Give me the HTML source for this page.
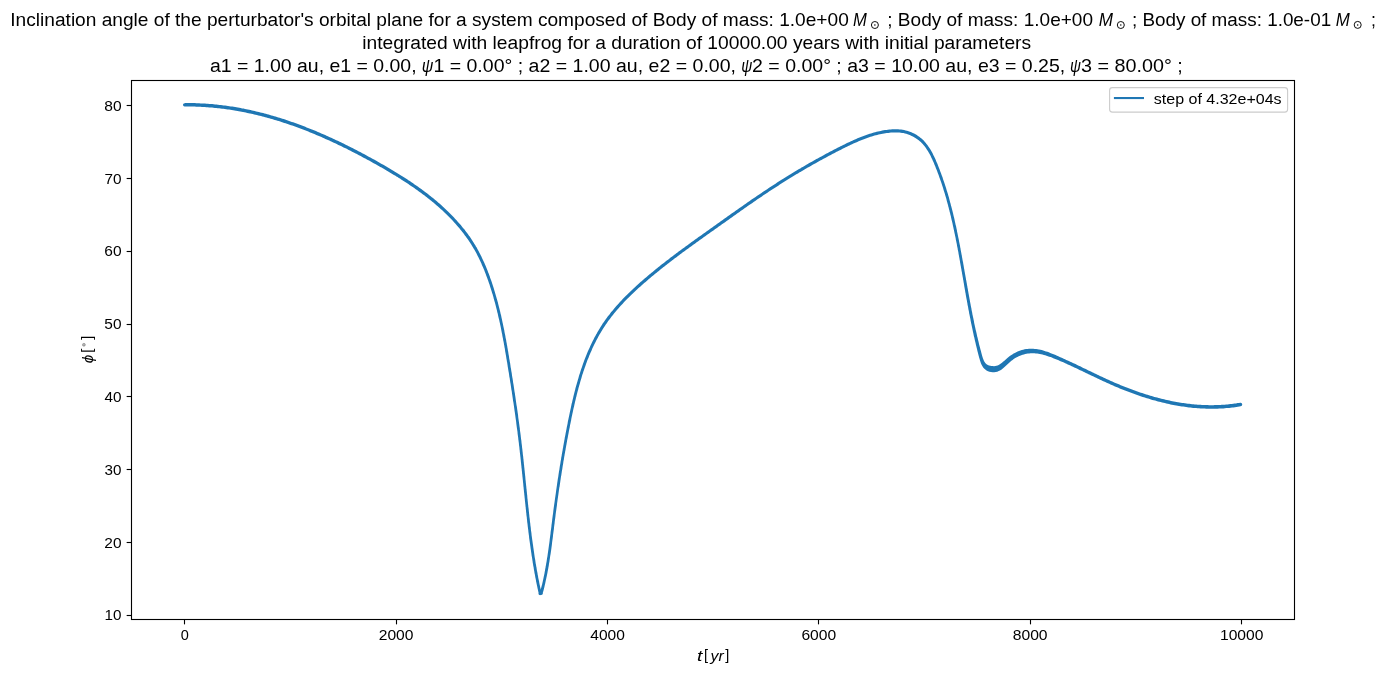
<!DOCTYPE html>
<html><head><meta charset="utf-8"><title>plot</title>
<style>
html,body{margin:0;padding:0;background:#fff;overflow:hidden;}
svg{display:block;will-change:transform;}
text{font-family:"Liberation Sans",sans-serif;fill:#000;}
</style></head>
<body>
<svg width="1387" height="676" viewBox="0 0 1387 676">
<rect x="0" y="0" width="1387" height="676" fill="#fff"/>
<path d="M184.7,106.6 186.1,106.5 187.6,106.5 189.0,106.5 190.5,106.6 191.9,106.6 193.4,106.6 194.8,106.6 196.2,106.7 197.7,106.7 199.1,106.8 200.6,106.8 202.0,106.9 203.4,107.0 204.9,107.1 206.3,107.2 207.7,107.3 209.2,107.4 210.6,107.5 212.0,107.6 213.4,107.7 214.9,107.9 216.3,108.0 217.7,108.2 219.1,108.3 220.5,108.5 222.0,108.7 223.4,108.8 224.8,109.0 226.2,109.2 227.6,109.4 229.0,109.6 230.4,109.8 231.8,110.1 233.2,110.3 234.6,110.5 236.0,110.8 237.4,111.0 238.8,111.2 240.2,111.5 241.6,111.8 243.0,112.0 244.4,112.3 245.8,112.6 247.2,112.9 248.6,113.2 250.0,113.5 251.4,113.8 252.8,114.1 254.1,114.4 255.5,114.7 256.9,115.1 258.3,115.4 259.7,115.8 261.0,116.1 262.4,116.5 263.8,116.8 265.2,117.2 266.5,117.6 267.9,117.9 269.3,118.3 270.6,118.7 272.0,119.1 273.4,119.5 274.7,119.9 276.1,120.3 277.4,120.7 278.8,121.1 280.2,121.6 281.5,122.0 282.9,122.4 284.2,122.9 285.6,123.3 286.9,123.8 288.3,124.2 289.6,124.7 291.0,125.2 292.3,125.6 293.6,126.1 295.0,126.6 296.3,127.1 297.7,127.6 299.0,128.1 300.3,128.6 301.7,129.1 303.0,129.6 304.3,130.1 305.7,130.6 307.0,131.1 308.3,131.6 309.6,132.2 311.0,132.7 312.3,133.2 313.6,133.8 314.9,134.3 316.2,134.9 317.6,135.4 318.9,136.0 320.2,136.6 321.5,137.1 322.8,137.7 324.1,138.3 325.4,138.9 326.7,139.5 328.0,140.0 329.3,140.6 330.6,141.2 331.9,141.8 333.2,142.4 334.5,143.0 335.8,143.6 337.1,144.3 338.4,144.9 339.7,145.5 341.0,146.1 342.3,146.7 343.6,147.4 344.9,148.0 346.2,148.6 347.5,149.3 348.7,149.9 350.0,150.6 351.3,151.2 352.6,151.9 353.8,152.5 355.1,153.2 356.4,153.8 357.7,154.5 358.9,155.2 360.2,155.8 361.5,156.5 362.7,157.2 364.0,157.9 365.3,158.6 366.5,159.2 367.8,159.9 369.1,160.6 370.3,161.3 371.6,162.0 372.8,162.7 374.1,163.4 375.3,164.1 376.6,164.8 377.8,165.5 379.1,166.2 380.3,166.9 381.6,167.6 382.8,168.3 384.1,169.1 385.3,169.8 386.5,170.5 387.8,171.2 389.0,171.9 390.2,172.7 391.5,173.4 392.7,174.2 393.9,174.9 395.1,175.6 396.4,176.4 397.6,177.1 398.8,177.9 400.0,178.6 401.2,179.4 402.4,180.2 403.6,180.9 404.8,181.7 406.0,182.5 407.2,183.3 408.4,184.1 409.6,184.9 410.7,185.7 411.9,186.5 413.1,187.3 414.3,188.1 415.4,188.9 416.6,189.7 417.7,190.5 418.9,191.4 420.0,192.2 421.2,193.0 422.3,193.9 423.4,194.7 424.6,195.6 425.7,196.4 426.8,197.3 427.9,198.2 429.0,199.1 430.1,200.0 431.2,200.8 432.3,201.7 433.4,202.6 434.5,203.6 435.6,204.5 436.7,205.4 437.7,206.3 438.8,207.3 439.9,208.2 440.9,209.2 442.0,210.1 443.0,211.1 444.0,212.1 445.0,213.0 446.1,214.0 447.1,215.0 448.1,216.0 449.1,217.0 450.1,218.0 451.1,219.1 452.1,220.1 453.0,221.1 454.0,222.2 455.0,223.2 455.9,224.3 456.9,225.4 457.8,226.5 458.7,227.5 459.6,228.6 460.5,229.7 461.4,230.8 462.3,232.0 463.2,233.1 464.1,234.2 464.9,235.4 465.8,236.5 466.6,237.7 467.4,238.8 468.3,240.0 469.1,241.2 469.8,242.3 470.6,243.5 471.4,244.7 472.1,245.9 472.9,247.2 473.6,248.4 474.3,249.6 475.0,250.8 475.7,252.1 476.4,253.3 477.0,254.6 477.7,255.9 478.3,257.1 479.0,258.4 479.6,259.7 480.2,261.0 480.8,262.3 481.4,263.6 481.9,264.9 482.5,266.2 483.1,267.5 483.6,268.8 484.2,270.1 484.7,271.4 485.2,272.8 485.7,274.1 486.2,275.4 486.7,276.8 487.2,278.1 487.7,279.4 488.2,280.8 488.6,282.1 489.1,283.5 489.6,284.8 490.0,286.2 490.4,287.5 490.9,288.9 491.3,290.2 491.7,291.6 492.1,293.0 492.6,294.3 493.0,295.7 493.4,297.1 493.7,298.4 494.1,299.8 494.5,301.2 494.9,302.5 495.3,303.9 495.6,305.3 496.0,306.7 496.3,308.1 496.7,309.4 497.0,310.8 497.3,312.2 497.7,313.6 498.0,315.0 498.3,316.4 498.6,317.8 499.0,319.2 499.3,320.6 499.6,322.0 499.9,323.3 500.2,324.7 500.5,326.1 500.8,327.5 501.1,328.9 501.3,330.3 501.6,331.7 501.9,333.2 502.2,334.6 502.4,336.0 502.7,337.4 503.0,338.8 503.2,340.2 503.5,341.6 503.8,343.0 504.0,344.4 504.3,345.8 504.5,347.2 504.8,348.6 505.0,350.1 505.2,351.5 505.5,352.9 505.7,354.3 506.0,355.7 506.2,357.1 506.4,358.5 506.7,360.0 506.9,361.4 507.2,362.8 507.4,364.2 507.6,365.6 507.8,367.0 508.1,368.4 508.3,369.9 508.5,371.3 508.8,372.7 509.0,374.1 509.2,375.5 509.4,376.9 509.7,378.3 509.9,379.8 510.1,381.2 510.3,382.6 510.6,384.0 510.8,385.4 511.0,386.8 511.2,388.2 511.4,389.7 511.7,391.1 511.9,392.5 512.1,393.9 512.3,395.3 512.5,396.7 512.7,398.1 512.9,399.6 513.1,401.0 513.4,402.4 513.6,403.8 513.8,405.2 514.0,406.6 514.2,408.0 514.4,409.5 514.6,410.9 514.8,412.3 515.0,413.7 515.2,415.1 515.4,416.5 515.6,418.0 515.8,419.4 516.0,420.8 516.2,422.2 516.3,423.6 516.5,425.0 516.7,426.5 516.9,427.9 517.1,429.3 517.3,430.7 517.5,432.1 517.6,433.5 517.8,435.0 518.0,436.4 518.2,437.8 518.3,439.2 518.5,440.6 518.7,442.1 518.9,443.5 519.0,444.9 519.2,446.3 519.4,447.7 519.5,449.2 519.7,450.6 519.8,452.0 520.0,453.4 520.2,454.9 520.3,456.3 520.5,457.7 520.6,459.1 520.8,460.5 520.9,462.0 521.1,463.4 521.2,464.8 521.4,466.2 521.5,467.7 521.7,469.1 521.8,470.5 522.0,471.9 522.1,473.4 522.3,474.8 522.4,476.2 522.6,477.7 522.7,479.1 522.9,480.5 523.0,481.9 523.2,483.4 523.3,484.8 523.4,486.2 523.6,487.6 523.7,489.1 523.9,490.5 524.0,491.9 524.2,493.3 524.3,494.8 524.5,496.2 524.6,497.6 524.8,499.1 524.9,500.5 525.1,501.9 525.2,503.3 525.4,504.8 525.5,506.2 525.7,507.6 525.8,509.0 526.0,510.5 526.1,511.9 526.3,513.3 526.4,514.7 526.6,516.2 526.8,517.6 526.9,519.0 527.1,520.5 527.2,521.9 527.4,523.3 527.6,524.7 527.7,526.1 527.9,527.6 528.1,529.0 528.3,530.4 528.4,531.8 528.6,533.3 528.8,534.7 529.0,536.1 529.1,537.5 529.3,539.0 529.5,540.4 529.7,541.8 529.9,543.2 530.1,544.6 530.3,546.1 530.5,547.5 530.7,548.9 530.9,550.3 531.1,551.7 531.3,553.1 531.5,554.6 531.7,556.0 532.0,557.4 532.2,558.8 532.4,560.2 532.6,561.6 532.8,563.1 533.1,564.5 533.3,565.9 533.6,567.3 533.8,568.7 534.0,570.1 534.3,571.5 534.5,572.9 534.8,574.3 535.1,575.8 535.3,577.2 535.6,578.6 535.9,580.0 536.1,581.4 536.4,582.8 536.7,584.2 537.0,585.6 537.3,587.0 537.6,588.4 537.9,589.8 538.2,591.2 538.5,592.6 538.8,594.0 541.4,592.8 541.1,591.4 540.8,590.0 540.5,588.6 540.2,587.2 539.9,585.8 539.6,584.4 539.3,583.0 539.1,581.6 538.8,580.3 538.5,578.9 538.2,577.5 538.0,576.1 537.7,574.7 537.5,573.2 537.2,571.8 536.9,570.4 536.7,569.0 536.5,567.6 536.2,566.2 536.0,564.8 535.7,563.4 535.5,562.0 535.3,560.6 535.1,559.2 534.8,557.8 534.6,556.4 534.4,555.0 534.2,553.5 534.0,552.1 533.8,550.7 533.6,549.3 533.4,547.9 533.2,546.5 533.0,545.1 532.8,543.7 532.6,542.2 532.4,540.8 532.2,539.4 532.0,538.0 531.8,536.6 531.6,535.2 531.5,533.7 531.3,532.3 531.1,530.9 530.9,529.5 530.8,528.1 530.6,526.6 530.4,525.2 530.3,523.8 530.1,522.4 529.9,520.9 529.8,519.5 529.6,518.1 529.4,516.7 529.3,515.3 529.1,513.8 529.0,512.4 528.8,511.0 528.7,509.6 528.5,508.1 528.3,506.7 528.2,505.3 528.0,503.9 527.9,502.4 527.7,501.0 527.6,499.6 527.4,498.2 527.3,496.7 527.2,495.3 527.0,493.9 526.9,492.5 526.7,491.0 526.6,489.6 526.4,488.2 526.3,486.7 526.1,485.3 526.0,483.9 525.8,482.5 525.7,481.0 525.5,479.6 525.4,478.2 525.3,476.8 525.1,475.3 525.0,473.9 524.8,472.5 524.7,471.1 524.5,469.6 524.4,468.2 524.2,466.8 524.1,465.3 523.9,463.9 523.8,462.5 523.6,461.1 523.5,459.6 523.3,458.2 523.2,456.8 523.0,455.4 522.8,453.9 522.7,452.5 522.5,451.1 522.4,449.7 522.2,448.2 522.0,446.8 521.9,445.4 521.7,444.0 521.5,442.5 521.4,441.1 521.2,439.7 521.0,438.3 520.8,436.8 520.7,435.4 520.5,434.0 520.3,432.6 520.1,431.2 519.9,429.7 519.8,428.3 519.6,426.9 519.4,425.5 519.2,424.1 519.0,422.6 518.8,421.2 518.6,419.8 518.4,418.4 518.2,417.0 518.1,415.5 517.9,414.1 517.7,412.7 517.5,411.3 517.3,409.9 517.1,408.5 516.9,407.0 516.6,405.6 516.4,404.2 516.2,402.8 516.0,401.4 515.8,399.9 515.6,398.5 515.4,397.1 515.2,395.7 515.0,394.3 514.8,392.9 514.5,391.5 514.3,390.0 514.1,388.6 513.9,387.2 513.7,385.8 513.5,384.4 513.2,383.0 513.0,381.5 512.8,380.1 512.6,378.7 512.3,377.3 512.1,375.9 511.9,374.5 511.7,373.0 511.4,371.6 511.2,370.2 511.0,368.8 510.7,367.4 510.5,366.0 510.3,364.5 510.1,363.1 509.8,361.7 509.6,360.3 509.3,358.9 509.1,357.5 508.9,356.0 508.6,354.6 508.4,353.2 508.2,351.8 507.9,350.4 507.7,349.0 507.4,347.6 507.2,346.1 506.9,344.7 506.7,343.3 506.4,341.9 506.2,340.5 505.9,339.1 505.6,337.7 505.4,336.2 505.1,334.8 504.8,333.4 504.5,332.0 504.3,330.6 504.0,329.2 503.7,327.8 503.4,326.4 503.1,325.0 502.8,323.6 502.5,322.2 502.2,320.7 501.9,319.3 501.6,317.9 501.3,316.5 501.0,315.1 500.6,313.7 500.3,312.3 500.0,310.9 499.6,309.6 499.3,308.2 498.9,306.8 498.6,305.4 498.2,304.0 497.9,302.6 497.5,301.2 497.1,299.8 496.7,298.4 496.3,297.1 495.9,295.7 495.5,294.3 495.1,292.9 494.7,291.5 494.3,290.2 493.9,288.8 493.5,287.4 493.0,286.1 492.6,284.7 492.1,283.3 491.7,282.0 491.2,280.6 490.7,279.2 490.2,277.9 489.8,276.5 489.3,275.2 488.8,273.8 488.2,272.5 487.7,271.1 487.2,269.8 486.7,268.5 486.1,267.1 485.6,265.8 485.0,264.5 484.4,263.1 483.8,261.8 483.2,260.5 482.6,259.2 482.0,257.9 481.4,256.6 480.7,255.3 480.1,254.0 479.4,252.7 478.8,251.4 478.1,250.2 477.4,248.9 476.7,247.6 475.9,246.4 475.2,245.1 474.4,243.9 473.7,242.7 472.9,241.4 472.1,240.2 471.3,239.0 470.5,237.8 469.7,236.6 468.8,235.4 468.0,234.3 467.1,233.1 466.2,231.9 465.3,230.8 464.5,229.6 463.5,228.5 462.6,227.4 461.7,226.3 460.8,225.1 459.8,224.0 458.9,223.0 457.9,221.9 457.0,220.8 456.0,219.7 455.0,218.7 454.0,217.6 453.0,216.5 452.0,215.5 451.0,214.5 450.0,213.5 449.0,212.4 448.0,211.4 446.9,210.4 445.9,209.4 444.8,208.5 443.8,207.5 442.7,206.5 441.7,205.5 440.6,204.6 439.5,203.6 438.4,202.7 437.4,201.8 436.3,200.8 435.2,199.9 434.1,199.0 433.0,198.1 431.8,197.2 430.7,196.3 429.6,195.4 428.5,194.5 427.3,193.6 426.2,192.8 425.1,191.9 423.9,191.1 422.8,190.2 421.6,189.3 420.5,188.5 419.3,187.7 418.1,186.8 417.0,186.0 415.8,185.2 414.6,184.4 413.4,183.6 412.3,182.7 411.1,181.9 409.9,181.1 408.7,180.4 407.5,179.6 406.3,178.8 405.1,178.0 403.9,177.2 402.7,176.5 401.4,175.7 400.2,174.9 399.0,174.2 397.8,173.4 396.6,172.7 395.3,171.9 394.1,171.2 392.9,170.4 391.6,169.7 390.4,168.9 389.2,168.2 387.9,167.5 386.7,166.8 385.4,166.0 384.2,165.3 382.9,164.6 381.7,163.9 380.4,163.2 379.2,162.5 377.9,161.7 376.7,161.0 375.4,160.3 374.1,159.6 372.9,158.9 371.6,158.2 370.4,157.5 369.1,156.9 367.8,156.2 366.6,155.5 365.3,154.8 364.0,154.1 362.7,153.4 361.5,152.8 360.2,152.1 358.9,151.4 357.6,150.7 356.4,150.1 355.1,149.4 353.8,148.8 352.5,148.1 351.2,147.5 349.9,146.8 348.7,146.2 347.4,145.5 346.1,144.9 344.8,144.2 343.5,143.6 342.2,143.0 340.9,142.3 339.6,141.7 338.3,141.1 337.0,140.5 335.7,139.9 334.4,139.3 333.1,138.7 331.8,138.1 330.5,137.5 329.2,136.9 327.8,136.3 326.5,135.7 325.2,135.1 323.9,134.5 322.6,133.9 321.3,133.4 319.9,132.8 318.6,132.2 317.3,131.7 316.0,131.1 314.6,130.6 313.3,130.0 312.0,129.5 310.6,128.9 309.3,128.4 308.0,127.9 306.6,127.4 305.3,126.8 304.0,126.3 302.6,125.8 301.3,125.3 299.9,124.8 298.6,124.3 297.2,123.8 295.9,123.3 294.5,122.8 293.2,122.3 291.8,121.9 290.5,121.4 289.1,120.9 287.8,120.5 286.4,120.0 285.1,119.6 283.7,119.1 282.3,118.7 281.0,118.3 279.6,117.8 278.2,117.4 276.9,117.0 275.5,116.6 274.1,116.2 272.8,115.8 271.4,115.4 270.0,115.0 268.6,114.6 267.2,114.2 265.9,113.8 264.5,113.5 263.1,113.1 261.7,112.7 260.3,112.4 258.9,112.0 257.5,111.7 256.1,111.4 254.8,111.0 253.4,110.7 252.0,110.4 250.6,110.1 249.2,109.8 247.8,109.5 246.4,109.2 245.0,108.9 243.6,108.6 242.1,108.4 240.7,108.1 239.3,107.8 237.9,107.6 236.5,107.3 235.1,107.1 233.7,106.8 232.3,106.6 230.8,106.4 229.4,106.2 228.0,106.0 226.6,105.8 225.1,105.6 223.7,105.4 222.3,105.2 220.9,105.0 219.4,104.9 218.0,104.7 216.6,104.6 215.1,104.4 213.7,104.3 212.2,104.1 210.8,104.0 209.4,103.9 207.9,103.8 206.5,103.7 205.0,103.6 203.6,103.5 202.1,103.4 200.7,103.4 199.2,103.3 197.8,103.2 196.3,103.2 194.9,103.1 193.4,103.1 191.9,103.1 190.5,103.1 189.0,103.0 187.6,103.0 186.1,103.0 184.6,103.1ZM542.6,593.9 542.9,592.5 543.3,591.2 543.7,589.8 544.0,588.4 544.4,587.0 544.7,585.6 545.0,584.3 545.3,582.9 545.6,581.5 545.9,580.1 546.2,578.7 546.5,577.3 546.8,575.9 547.1,574.5 547.4,573.1 547.6,571.7 547.9,570.2 548.2,568.8 548.4,567.4 548.7,566.0 548.9,564.6 549.1,563.2 549.4,561.8 549.6,560.3 549.8,558.9 550.0,557.5 550.2,556.1 550.5,554.6 550.7,553.2 550.9,551.8 551.1,550.4 551.3,548.9 551.5,547.5 551.7,546.1 551.9,544.6 552.0,543.2 552.2,541.8 552.4,540.3 552.6,538.9 552.8,537.5 553.0,536.1 553.1,534.6 553.3,533.2 553.5,531.8 553.7,530.3 553.9,528.9 554.0,527.5 554.2,526.0 554.4,524.6 554.6,523.2 554.7,521.8 554.9,520.3 555.1,518.9 555.3,517.5 555.5,516.1 555.6,514.7 555.8,513.2 556.0,511.8 556.2,510.4 556.4,509.0 556.6,507.6 556.8,506.2 557.0,504.7 557.1,503.3 557.3,501.9 557.5,500.5 557.7,499.1 557.9,497.7 558.1,496.3 558.3,494.9 558.5,493.4 558.7,492.0 558.9,490.6 559.1,489.2 559.3,487.8 559.6,486.4 559.8,485.0 560.0,483.6 560.2,482.2 560.4,480.8 560.6,479.4 560.8,478.0 561.0,476.6 561.3,475.2 561.5,473.8 561.7,472.4 561.9,471.0 562.2,469.6 562.4,468.2 562.6,466.8 562.8,465.4 563.1,463.9 563.3,462.5 563.5,461.1 563.8,459.7 564.0,458.3 564.2,456.9 564.5,455.5 564.7,454.1 565.0,452.7 565.2,451.3 565.5,449.9 565.7,448.5 566.0,447.1 566.2,445.7 566.5,444.3 566.7,442.9 567.0,441.5 567.2,440.1 567.5,438.7 567.8,437.3 568.0,435.9 568.3,434.5 568.6,433.1 568.8,431.7 569.1,430.2 569.4,428.8 569.7,427.4 569.9,426.0 570.2,424.6 570.5,423.2 570.8,421.8 571.1,420.4 571.3,419.0 571.6,417.5 571.9,416.1 572.2,414.7 572.5,413.3 572.8,411.9 573.1,410.5 573.4,409.1 573.7,407.7 574.1,406.3 574.4,404.8 574.7,403.4 575.0,402.0 575.4,400.6 575.7,399.2 576.0,397.8 576.4,396.4 576.7,395.0 577.1,393.6 577.4,392.2 577.8,390.8 578.2,389.4 578.5,388.0 578.9,386.7 579.3,385.3 579.7,383.9 580.1,382.5 580.5,381.1 580.9,379.8 581.3,378.4 581.7,377.0 582.1,375.6 582.5,374.3 583.0,372.9 583.4,371.6 583.9,370.2 584.3,368.9 584.8,367.5 585.3,366.2 585.8,364.8 586.2,363.5 586.7,362.2 587.2,360.8 587.7,359.5 588.3,358.2 588.8,356.9 589.3,355.6 589.9,354.3 590.4,353.0 591.0,351.7 591.6,350.4 592.1,349.1 592.7,347.8 593.3,346.5 593.9,345.3 594.5,344.0 595.2,342.7 595.8,341.5 596.4,340.2 597.1,339.0 597.8,337.7 598.4,336.5 599.1,335.3 599.8,334.1 600.5,332.9 601.2,331.7 602.0,330.5 602.7,329.3 603.5,328.1 604.2,326.9 605.0,325.7 605.8,324.6 606.6,323.4 607.4,322.3 608.2,321.1 609.0,320.0 609.9,318.9 610.7,317.7 611.6,316.6 612.5,315.5 613.3,314.4 614.2,313.3 615.1,312.2 616.1,311.1 617.0,310.0 617.9,309.0 618.8,307.9 619.8,306.8 620.7,305.8 621.7,304.7 622.7,303.7 623.7,302.6 624.6,301.6 625.6,300.6 626.6,299.5 627.6,298.5 628.7,297.5 629.7,296.5 630.7,295.5 631.7,294.5 632.8,293.5 633.8,292.5 634.9,291.5 635.9,290.5 637.0,289.6 638.0,288.6 639.1,287.6 640.2,286.7 641.2,285.7 642.3,284.7 643.4,283.8 644.5,282.8 645.6,281.9 646.7,281.0 647.8,280.0 648.8,279.1 649.9,278.2 651.0,277.2 652.1,276.3 653.2,275.4 654.3,274.5 655.5,273.6 656.6,272.7 657.7,271.8 658.8,270.9 659.9,270.0 661.0,269.1 662.1,268.2 663.2,267.3 664.4,266.4 665.5,265.6 666.6,264.7 667.7,263.8 668.9,262.9 670.0,262.1 671.1,261.2 672.3,260.3 673.4,259.5 674.5,258.6 675.7,257.8 676.8,256.9 677.9,256.0 679.1,255.2 680.2,254.3 681.4,253.5 682.5,252.6 683.7,251.8 684.8,251.0 686.0,250.1 687.1,249.3 688.3,248.4 689.4,247.6 690.6,246.8 691.7,245.9 692.9,245.1 694.0,244.2 695.2,243.4 696.3,242.6 697.5,241.8 698.6,240.9 699.8,240.1 701.0,239.3 702.1,238.4 703.3,237.6 704.4,236.8 705.6,235.9 706.8,235.1 707.9,234.3 709.1,233.5 710.3,232.6 711.4,231.8 712.6,231.0 713.8,230.2 714.9,229.3 716.1,228.5 717.3,227.7 718.4,226.8 719.6,226.0 720.8,225.2 721.9,224.3 723.1,223.5 724.3,222.7 725.4,221.9 726.6,221.0 727.8,220.2 728.9,219.4 730.1,218.5 731.3,217.7 732.4,216.9 733.6,216.0 734.8,215.2 735.9,214.4 737.1,213.6 738.3,212.7 739.5,211.9 740.6,211.1 741.8,210.3 743.0,209.4 744.2,208.6 745.3,207.8 746.5,207.0 747.7,206.1 748.9,205.3 750.0,204.5 751.2,203.7 752.4,202.9 753.6,202.1 754.8,201.3 755.9,200.4 757.1,199.6 758.3,198.8 759.5,198.0 760.7,197.2 761.9,196.4 763.0,195.6 764.2,194.8 765.4,194.0 766.6,193.2 767.8,192.4 769.0,191.6 770.2,190.8 771.4,190.1 772.6,189.3 773.8,188.5 775.0,187.7 776.2,186.9 777.4,186.2 778.6,185.4 779.8,184.6 781.0,183.8 782.2,183.1 783.4,182.3 784.6,181.6 785.8,180.8 787.0,180.0 788.2,179.3 789.4,178.5 790.6,177.8 791.9,177.0 793.1,176.3 794.3,175.6 795.5,174.8 796.7,174.1 798.0,173.4 799.2,172.6 800.4,171.9 801.6,171.2 802.9,170.5 804.1,169.7 805.3,169.0 806.6,168.3 807.8,167.6 809.0,166.9 810.3,166.2 811.5,165.5 812.7,164.8 814.0,164.1 815.2,163.4 816.5,162.7 817.7,162.0 819.0,161.3 820.2,160.6 821.5,159.9 822.7,159.2 824.0,158.5 825.2,157.9 826.5,157.2 827.8,156.5 829.0,155.8 830.3,155.2 831.6,154.5 832.8,153.8 834.1,153.2 835.4,152.5 836.6,151.8 837.9,151.2 839.2,150.5 840.5,149.9 841.8,149.2 843.0,148.6 844.3,147.9 845.6,147.3 846.9,146.7 848.2,146.0 849.5,145.4 850.8,144.8 852.1,144.2 853.4,143.6 854.7,143.0 856.0,142.4 857.3,141.9 858.6,141.3 859.9,140.7 861.2,140.2 862.5,139.7 863.9,139.2 865.2,138.7 866.5,138.2 867.8,137.7 869.2,137.3 870.5,136.8 871.8,136.4 873.2,136.0 874.5,135.6 875.9,135.2 877.2,134.9 878.6,134.6 880.0,134.3 881.3,134.0 882.7,133.7 884.1,133.5 885.4,133.2 886.8,133.0 888.2,132.9 889.6,132.7 891.0,132.6 892.4,132.5 893.8,132.4 895.2,132.4 896.6,132.4 898.0,132.5 899.4,132.5 900.8,132.7 902.1,132.9 903.5,133.1 904.9,133.5 906.3,133.8 907.6,134.3 909.0,134.7 910.3,135.3 911.6,135.9 912.9,136.5 914.1,137.2 915.4,137.9 916.5,138.7 917.6,139.5 918.7,140.3 919.8,141.2 920.8,142.1 921.7,143.0 922.7,144.0 923.5,145.0 924.4,146.1 925.2,147.1 926.0,148.2 926.8,149.4 927.5,150.5 928.3,151.7 929.0,152.9 929.6,154.1 930.3,155.3 930.9,156.6 931.5,157.9 932.1,159.1 932.7,160.4 933.3,161.7 933.9,163.1 934.4,164.4 935.0,165.7 935.5,167.0 936.0,168.4 936.6,169.7 937.1,171.0 937.6,172.4 938.1,173.7 938.6,175.0 939.1,176.4 939.5,177.7 940.0,179.1 940.5,180.4 941.0,181.8 941.4,183.1 941.9,184.5 942.3,185.8 942.8,187.2 943.2,188.6 943.6,189.9 944.0,191.3 944.5,192.7 944.9,194.0 945.3,195.4 945.7,196.8 946.1,198.1 946.5,199.5 946.8,200.9 947.2,202.3 947.6,203.7 948.0,205.0 948.3,206.4 948.7,207.8 949.0,209.2 949.4,210.6 949.7,212.0 950.1,213.3 950.4,214.7 950.8,216.1 951.1,217.5 951.4,218.9 951.7,220.3 952.1,221.7 952.4,223.1 952.7,224.5 953.0,225.9 953.3,227.3 953.6,228.7 953.9,230.1 954.2,231.5 954.5,232.9 954.8,234.3 955.1,235.7 955.4,237.1 955.7,238.5 955.9,239.9 956.2,241.3 956.5,242.7 956.8,244.1 957.0,245.5 957.3,246.9 957.6,248.3 957.8,249.7 958.1,251.1 958.4,252.5 958.6,253.9 958.9,255.4 959.1,256.8 959.4,258.2 959.6,259.6 959.9,261.0 960.1,262.4 960.4,263.9 960.6,265.3 960.9,266.7 961.1,268.1 961.4,269.5 961.6,270.9 961.9,272.3 962.1,273.8 962.4,275.2 962.6,276.6 962.9,278.0 963.1,279.4 963.4,280.8 963.6,282.3 963.9,283.7 964.1,285.1 964.3,286.5 964.6,287.9 964.8,289.3 965.1,290.7 965.3,292.2 965.6,293.6 965.8,295.0 966.1,296.4 966.3,297.8 966.6,299.2 966.9,300.7 967.1,302.1 967.4,303.5 967.6,304.9 967.9,306.3 968.2,307.7 968.4,309.2 968.7,310.6 969.0,312.0 969.2,313.4 969.5,314.8 969.8,316.3 970.1,317.7 970.4,319.1 970.6,320.5 970.9,321.9 971.2,323.4 971.5,324.8 971.8,326.2 972.1,327.6 972.4,329.1 972.7,330.5 973.0,331.9 973.3,333.3 973.6,334.8 973.9,336.2 974.3,337.6 974.6,339.0 974.9,340.5 975.3,341.9 975.6,343.3 975.9,344.8 976.3,346.2 976.6,347.6 977.0,349.1 977.3,350.5 977.7,351.9 978.1,353.4 978.4,354.8 978.8,356.3 979.2,357.7 979.6,359.1 980.0,360.6 980.5,362.0 981.0,363.4 981.6,364.8 982.3,366.1 983.2,367.4 984.1,368.5 985.3,369.6 986.5,370.5 988.0,371.2 989.4,371.8 991.0,372.1 992.6,372.3 994.2,372.2 995.7,372.0 997.3,371.7 998.7,371.1 1000.0,370.5 1001.3,369.7 1002.5,368.8 1003.7,367.8 1004.8,366.8 1005.9,365.8 1007.0,364.8 1008.1,363.7 1009.2,362.7 1010.3,361.8 1011.4,360.8 1012.6,360.0 1013.7,359.1 1014.9,358.3 1016.2,357.6 1017.4,356.9 1018.7,356.3 1020.0,355.7 1021.3,355.2 1022.6,354.8 1023.9,354.4 1025.2,354.0 1026.5,353.7 1027.9,353.5 1029.2,353.4 1030.5,353.3 1031.8,353.2 1033.2,353.2 1034.5,353.3 1035.8,353.4 1037.2,353.5 1038.5,353.8 1039.8,354.0 1041.2,354.3 1042.5,354.6 1043.9,355.0 1045.2,355.3 1046.5,355.7 1047.9,356.2 1049.2,356.7 1050.6,357.1 1051.9,357.6 1053.2,358.2 1054.6,358.7 1055.9,359.2 1057.3,359.8 1058.6,360.3 1059.9,360.9 1061.2,361.5 1062.6,362.1 1063.9,362.6 1065.2,363.2 1066.5,363.8 1067.8,364.4 1069.1,365.0 1070.4,365.6 1071.7,366.2 1073.0,366.8 1074.3,367.4 1075.6,368.0 1076.9,368.6 1078.2,369.3 1079.5,369.9 1080.8,370.5 1082.1,371.1 1083.4,371.7 1084.6,372.3 1085.9,372.9 1087.2,373.6 1088.5,374.2 1089.8,374.8 1091.1,375.4 1092.4,376.0 1093.6,376.6 1094.9,377.2 1096.2,377.8 1097.5,378.5 1098.8,379.1 1100.1,379.7 1101.4,380.3 1102.7,380.9 1104.0,381.5 1105.3,382.1 1106.6,382.7 1107.9,383.3 1109.2,383.8 1110.5,384.4 1111.8,385.0 1113.1,385.6 1114.4,386.2 1115.7,386.7 1117.1,387.3 1118.4,387.8 1119.7,388.4 1121.0,388.9 1122.4,389.5 1123.7,390.0 1125.0,390.5 1126.4,391.1 1127.7,391.6 1129.1,392.1 1130.4,392.6 1131.8,393.1 1133.1,393.6 1134.5,394.1 1135.8,394.6 1137.2,395.1 1138.6,395.5 1139.9,396.0 1141.3,396.4 1142.7,396.9 1144.0,397.3 1145.4,397.8 1146.8,398.2 1148.2,398.6 1149.6,399.1 1150.9,399.5 1152.3,399.9 1153.7,400.3 1155.1,400.6 1156.5,401.0 1157.9,401.4 1159.3,401.8 1160.7,402.1 1162.1,402.5 1163.5,402.8 1164.9,403.1 1166.3,403.4 1167.7,403.8 1169.1,404.1 1170.5,404.4 1171.9,404.7 1173.3,404.9 1174.7,405.2 1176.2,405.5 1177.6,405.7 1179.0,406.0 1180.4,406.2 1181.8,406.4 1183.2,406.6 1184.7,406.8 1186.1,407.0 1187.5,407.2 1188.9,407.4 1190.4,407.6 1191.8,407.7 1193.2,407.9 1194.7,408.0 1196.1,408.1 1197.5,408.2 1199.0,408.3 1200.4,408.4 1201.8,408.5 1203.3,408.6 1204.7,408.6 1206.1,408.7 1207.6,408.7 1209.0,408.7 1210.5,408.8 1211.9,408.8 1213.3,408.8 1214.8,408.7 1216.2,408.7 1217.7,408.7 1219.1,408.6 1220.6,408.5 1222.0,408.5 1223.4,408.4 1224.9,408.3 1226.3,408.1 1227.8,408.0 1229.2,407.9 1230.7,407.7 1232.1,407.5 1233.5,407.4 1235.0,407.2 1236.4,407.0 1237.9,406.7 1239.3,406.5 1240.8,406.3 1240.3,402.7 1238.9,402.9 1237.5,403.1 1236.0,403.4 1234.6,403.6 1233.2,403.8 1231.8,403.9 1230.4,404.1 1228.9,404.3 1227.5,404.4 1226.1,404.5 1224.7,404.7 1223.3,404.8 1221.8,404.8 1220.4,404.9 1219.0,405.0 1217.6,405.1 1216.1,405.1 1214.7,405.1 1213.3,405.2 1211.9,405.2 1210.5,405.2 1209.1,405.2 1207.6,405.1 1206.2,405.1 1204.8,405.0 1203.4,405.0 1202.0,404.9 1200.6,404.8 1199.1,404.8 1197.7,404.7 1196.3,404.5 1194.9,404.4 1193.5,404.3 1192.1,404.2 1190.7,404.0 1189.3,403.8 1187.9,403.7 1186.4,403.5 1185.0,403.3 1183.6,403.1 1182.2,402.9 1180.8,402.7 1179.4,402.4 1178.0,402.2 1176.6,402.0 1175.2,401.7 1173.8,401.4 1172.4,401.2 1171.0,400.9 1169.7,400.6 1168.3,400.3 1166.9,400.0 1165.5,399.7 1164.1,399.3 1162.7,399.0 1161.3,398.7 1159.9,398.3 1158.6,398.0 1157.2,397.6 1155.8,397.2 1154.4,396.9 1153.1,396.5 1151.7,396.1 1150.3,395.7 1149.0,395.3 1147.6,394.8 1146.2,394.4 1144.9,394.0 1143.5,393.6 1142.1,393.1 1140.8,392.7 1139.4,392.2 1138.1,391.7 1136.7,391.3 1135.4,390.8 1134.0,390.3 1132.7,389.8 1131.4,389.3 1130.0,388.8 1128.7,388.3 1127.4,387.8 1126.0,387.3 1124.7,386.8 1123.4,386.2 1122.1,385.7 1120.7,385.2 1119.4,384.6 1118.1,384.1 1116.8,383.5 1115.5,382.9 1114.2,382.4 1112.9,381.8 1111.6,381.2 1110.3,380.7 1109.0,380.1 1107.7,379.5 1106.4,378.9 1105.1,378.3 1103.8,377.7 1102.5,377.1 1101.2,376.5 1099.9,375.9 1098.7,375.3 1097.4,374.7 1096.1,374.1 1094.8,373.5 1093.5,372.8 1092.2,372.2 1091.0,371.6 1089.7,371.0 1088.4,370.4 1087.1,369.7 1085.8,369.1 1084.5,368.5 1083.2,367.9 1081.9,367.2 1080.7,366.6 1079.4,366.0 1078.1,365.4 1076.8,364.7 1075.5,364.1 1074.2,363.5 1072.9,362.9 1071.6,362.3 1070.2,361.7 1068.9,361.1 1067.6,360.5 1066.3,359.9 1065.0,359.3 1063.7,358.7 1062.3,358.1 1061.0,357.5 1059.7,356.9 1058.3,356.3 1057.0,355.7 1055.6,355.1 1054.3,354.5 1052.9,353.9 1051.5,353.4 1050.2,352.9 1048.8,352.3 1047.4,351.8 1046.0,351.4 1044.6,350.9 1043.2,350.5 1041.8,350.1 1040.4,349.8 1039.0,349.5 1037.6,349.2 1036.1,349.0 1034.7,348.9 1033.3,348.8 1031.8,348.7 1030.4,348.7 1029.0,348.8 1027.5,348.9 1026.1,349.1 1024.6,349.3 1023.2,349.7 1021.8,350.0 1020.4,350.5 1019.0,351.0 1017.6,351.6 1016.2,352.2 1014.9,352.9 1013.6,353.6 1012.3,354.4 1011.0,355.2 1009.8,356.1 1008.6,357.0 1007.4,358.0 1006.3,358.9 1005.2,359.9 1004.1,360.9 1003.0,361.8 1002.0,362.7 1000.9,363.5 999.8,364.2 998.7,364.9 997.6,365.4 996.5,365.8 995.3,366.0 994.0,366.2 992.7,366.1 991.4,366.0 990.2,365.7 989.0,365.4 987.9,364.9 986.9,364.4 986.0,363.7 985.3,362.9 984.6,361.9 984.0,360.9 983.5,359.7 983.0,358.5 982.6,357.2 982.2,355.9 981.8,354.5 981.4,353.1 981.1,351.7 980.7,350.3 980.3,349.0 980.0,347.6 979.6,346.2 979.2,344.8 978.9,343.4 978.6,342.0 978.2,340.6 977.9,339.2 977.6,337.8 977.2,336.4 976.9,335.0 976.6,333.6 976.3,332.2 976.0,330.9 975.6,329.5 975.3,328.1 975.0,326.7 974.7,325.3 974.4,323.9 974.1,322.5 973.9,321.1 973.6,319.7 973.3,318.3 973.0,316.9 972.7,315.5 972.4,314.2 972.2,312.8 971.9,311.4 971.6,310.0 971.4,308.6 971.1,307.2 970.8,305.8 970.6,304.4 970.3,303.0 970.0,301.6 969.8,300.2 969.5,298.8 969.3,297.5 969.0,296.1 968.8,294.7 968.5,293.3 968.3,291.9 968.0,290.5 967.8,289.1 967.5,287.7 967.3,286.3 967.0,284.9 966.8,283.5 966.5,282.1 966.3,280.7 966.0,279.4 965.8,278.0 965.5,276.6 965.3,275.2 965.0,273.8 964.8,272.4 964.5,271.0 964.3,269.6 964.0,268.2 963.8,266.8 963.6,265.4 963.3,264.0 963.1,262.6 962.8,261.2 962.5,259.8 962.3,258.4 962.0,257.0 961.8,255.6 961.5,254.3 961.3,252.9 961.0,251.4 960.7,250.0 960.5,248.6 960.2,247.2 960.0,245.8 959.7,244.4 959.4,243.0 959.1,241.6 958.9,240.2 958.6,238.8 958.3,237.4 958.0,236.0 957.7,234.6 957.4,233.1 957.1,231.7 956.9,230.3 956.6,228.9 956.3,227.5 956.0,226.1 955.6,224.7 955.3,223.3 955.0,221.9 954.7,220.5 954.4,219.1 954.1,217.7 953.7,216.3 953.4,214.9 953.1,213.5 952.7,212.1 952.4,210.7 952.0,209.3 951.7,207.9 951.3,206.5 950.9,205.2 950.6,203.8 950.2,202.4 949.8,201.0 949.4,199.6 949.1,198.2 948.7,196.8 948.3,195.5 947.9,194.1 947.5,192.7 947.0,191.3 946.6,189.9 946.2,188.6 945.8,187.2 945.3,185.8 944.9,184.5 944.4,183.1 944.0,181.7 943.5,180.4 943.0,179.0 942.6,177.6 942.1,176.3 941.6,174.9 941.1,173.6 940.6,172.2 940.1,170.9 939.6,169.5 939.1,168.2 938.5,166.8 938.0,165.5 937.5,164.1 936.9,162.8 936.3,161.5 935.8,160.1 935.2,158.8 934.6,157.5 934.0,156.2 933.3,154.9 932.7,153.6 932.0,152.3 931.3,151.0 930.6,149.8 929.8,148.6 929.1,147.4 928.2,146.2 927.4,145.0 926.5,143.9 925.6,142.8 924.7,141.7 923.7,140.6 922.6,139.6 921.5,138.6 920.4,137.7 919.3,136.8 918.0,135.9 916.8,135.1 915.5,134.3 914.1,133.6 912.8,132.9 911.4,132.3 909.9,131.7 908.5,131.2 907.0,130.8 905.6,130.4 904.1,130.0 902.6,129.8 901.1,129.6 899.6,129.4 898.1,129.3 896.6,129.3 895.2,129.2 893.7,129.3 892.2,129.3 890.8,129.4 889.3,129.6 887.9,129.7 886.5,129.9 885.0,130.1 883.6,130.3 882.2,130.6 880.8,130.9 879.4,131.2 878.0,131.5 876.6,131.8 875.2,132.2 873.8,132.6 872.4,132.9 871.0,133.4 869.7,133.8 868.3,134.2 866.9,134.7 865.6,135.2 864.2,135.7 862.9,136.2 861.5,136.7 860.2,137.2 858.9,137.8 857.5,138.3 856.2,138.9 854.9,139.5 853.6,140.1 852.3,140.7 850.9,141.3 849.6,141.9 848.3,142.5 847.0,143.1 845.7,143.8 844.4,144.4 843.1,145.0 841.8,145.7 840.5,146.3 839.3,147.0 838.0,147.6 836.7,148.3 835.4,149.0 834.1,149.6 832.9,150.3 831.6,151.0 830.3,151.6 829.0,152.3 827.8,153.0 826.5,153.6 825.2,154.3 824.0,155.0 822.7,155.7 821.4,156.4 820.2,157.1 818.9,157.7 817.7,158.4 816.4,159.1 815.2,159.8 813.9,160.5 812.7,161.2 811.4,161.9 810.2,162.6 808.9,163.3 807.7,164.0 806.4,164.8 805.2,165.5 804.0,166.2 802.7,166.9 801.5,167.6 800.3,168.4 799.0,169.1 797.8,169.8 796.6,170.5 795.3,171.3 794.1,172.0 792.9,172.8 791.7,173.5 790.5,174.2 789.2,175.0 788.0,175.7 786.8,176.5 785.6,177.2 784.4,178.0 783.2,178.8 781.9,179.5 780.7,180.3 779.5,181.1 778.3,181.8 777.1,182.6 775.9,183.4 774.7,184.2 773.5,184.9 772.3,185.7 771.1,186.5 769.9,187.3 768.7,188.1 767.5,188.9 766.3,189.7 765.1,190.5 763.9,191.3 762.7,192.1 761.5,192.9 760.3,193.7 759.2,194.5 758.0,195.3 756.8,196.1 755.6,196.9 754.4,197.7 753.2,198.5 752.0,199.3 750.9,200.1 749.7,201.0 748.5,201.8 747.3,202.6 746.1,203.4 745.0,204.2 743.8,205.0 742.6,205.9 741.4,206.7 740.3,207.5 739.1,208.3 737.9,209.2 736.7,210.0 735.6,210.8 734.4,211.7 733.2,212.5 732.0,213.3 730.9,214.1 729.7,215.0 728.5,215.8 727.4,216.6 726.2,217.5 725.0,218.3 723.9,219.1 722.7,219.9 721.5,220.8 720.4,221.6 719.2,222.4 718.0,223.3 716.9,224.1 715.7,224.9 714.5,225.8 713.4,226.6 712.2,227.4 711.0,228.2 709.9,229.1 708.7,229.9 707.5,230.7 706.4,231.5 705.2,232.4 704.0,233.2 702.9,234.0 701.7,234.9 700.6,235.7 699.4,236.5 698.2,237.3 697.1,238.2 695.9,239.0 694.8,239.8 693.6,240.7 692.4,241.5 691.3,242.3 690.1,243.2 689.0,244.0 687.8,244.9 686.7,245.7 685.5,246.5 684.4,247.4 683.2,248.2 682.1,249.1 680.9,249.9 679.8,250.8 678.6,251.6 677.5,252.5 676.3,253.3 675.2,254.2 674.0,255.0 672.9,255.9 671.8,256.8 670.6,257.6 669.5,258.5 668.4,259.4 667.2,260.2 666.1,261.1 665.0,262.0 663.8,262.9 662.7,263.8 661.6,264.6 660.4,265.5 659.3,266.4 658.2,267.3 657.1,268.2 656.0,269.1 654.9,270.0 653.7,270.9 652.6,271.9 651.5,272.8 650.4,273.7 649.3,274.6 648.2,275.5 647.1,276.5 646.0,277.4 644.9,278.3 643.8,279.3 642.7,280.2 641.6,281.2 640.5,282.1 639.5,283.1 638.4,284.1 637.3,285.0 636.2,286.0 635.2,287.0 634.1,288.0 633.0,289.0 632.0,290.0 630.9,291.0 629.9,292.0 628.8,293.0 627.8,294.0 626.8,295.0 625.7,296.0 624.7,297.1 623.7,298.1 622.7,299.1 621.7,300.2 620.7,301.2 619.7,302.3 618.7,303.4 617.8,304.4 616.8,305.5 615.9,306.6 614.9,307.7 614.0,308.8 613.1,309.9 612.2,311.0 611.2,312.1 610.3,313.2 609.5,314.4 608.6,315.5 607.7,316.6 606.9,317.8 606.0,319.0 605.2,320.1 604.4,321.3 603.5,322.5 602.7,323.6 602.0,324.8 601.2,326.0 600.4,327.2 599.7,328.5 598.9,329.7 598.2,330.9 597.5,332.1 596.8,333.4 596.1,334.6 595.4,335.9 594.7,337.1 594.0,338.4 593.4,339.7 592.7,340.9 592.1,342.2 591.5,343.5 590.9,344.8 590.3,346.1 589.7,347.4 589.1,348.7 588.5,350.0 587.9,351.3 587.4,352.6 586.8,353.9 586.3,355.3 585.8,356.6 585.2,357.9 584.7,359.3 584.2,360.6 583.7,362.0 583.2,363.3 582.7,364.7 582.3,366.0 581.8,367.4 581.3,368.7 580.9,370.1 580.4,371.5 580.0,372.9 579.5,374.2 579.1,375.6 578.7,377.0 578.3,378.4 577.9,379.8 577.5,381.2 577.1,382.6 576.7,383.9 576.3,385.3 575.9,386.7 575.5,388.1 575.2,389.5 574.8,391.0 574.4,392.4 574.1,393.8 573.7,395.2 573.4,396.6 573.1,398.0 572.7,399.4 572.4,400.8 572.1,402.2 571.7,403.6 571.4,405.1 571.1,406.5 570.8,407.9 570.5,409.3 570.2,410.7 569.9,412.1 569.6,413.6 569.3,415.0 569.0,416.4 568.7,417.8 568.4,419.2 568.1,420.6 567.8,422.1 567.6,423.5 567.3,424.9 567.0,426.3 566.7,427.7 566.5,429.1 566.2,430.5 565.9,431.9 565.6,433.4 565.4,434.8 565.1,436.2 564.8,437.6 564.6,439.0 564.3,440.4 564.1,441.8 563.8,443.2 563.6,444.6 563.3,446.0 563.1,447.4 562.8,448.8 562.6,450.3 562.3,451.7 562.1,453.1 561.8,454.5 561.6,455.9 561.3,457.3 561.1,458.7 560.9,460.1 560.6,461.5 560.4,462.9 560.2,464.3 559.9,465.7 559.7,467.1 559.5,468.5 559.3,469.9 559.0,471.3 558.8,472.7 558.6,474.1 558.4,475.6 558.2,477.0 557.9,478.4 557.7,479.8 557.5,481.2 557.3,482.6 557.1,484.0 556.9,485.4 556.7,486.8 556.5,488.2 556.3,489.6 556.1,491.0 555.9,492.5 555.7,493.9 555.5,495.3 555.3,496.7 555.1,498.1 554.9,499.5 554.7,500.9 554.5,502.4 554.3,503.8 554.1,505.2 553.9,506.6 553.7,508.0 553.5,509.4 553.3,510.9 553.2,512.3 553.0,513.7 552.8,515.1 552.6,516.5 552.4,518.0 552.2,519.4 552.1,520.8 551.9,522.2 551.7,523.7 551.5,525.1 551.4,526.5 551.2,528.0 551.0,529.4 550.8,530.8 550.6,532.2 550.5,533.7 550.3,535.1 550.1,536.5 549.9,538.0 549.7,539.4 549.6,540.8 549.4,542.2 549.2,543.7 549.0,545.1 548.8,546.5 548.6,547.9 548.4,549.4 548.2,550.8 548.0,552.2 547.8,553.6 547.6,555.0 547.4,556.5 547.1,557.9 546.9,559.3 546.7,560.7 546.5,562.1 546.2,563.5 546.0,564.9 545.7,566.3 545.5,567.7 545.2,569.1 545.0,570.5 544.7,571.9 544.5,573.3 544.2,574.7 543.9,576.1 543.6,577.5 543.3,578.9 543.0,580.3 542.7,581.7 542.4,583.0 542.1,584.4 541.7,585.8 541.4,587.1 541.0,588.5 540.7,589.9 540.3,591.2 540.0,592.6ZM182.97,104.81 a1.67,1.67 0 1,0 3.34,0 a1.67,1.67 0 1,0 -3.34,0ZM538.50,593.41 a1.60,1.60 0 1,0 3.19,0 a1.60,1.60 0 1,0 -3.19,0ZM539.67,593.24 a1.60,1.60 0 1,0 3.19,0 a1.60,1.60 0 1,0 -3.19,0ZM1238.81,404.46 a1.72,1.72 0 1,0 3.45,0 a1.72,1.72 0 1,0 -3.45,0Z" fill="#1f77b4" fill-rule="nonzero"/>
<rect x="131.5" y="80.5" width="1163.0" height="539.0" fill="none" stroke="#000" stroke-width="1.11"/>
<line x1="126.64" y1="615.50" x2="131.5" y2="615.50" stroke="#000" stroke-width="1.11"/>
<line x1="126.64" y1="542.50" x2="131.5" y2="542.50" stroke="#000" stroke-width="1.11"/>
<line x1="126.64" y1="469.50" x2="131.5" y2="469.50" stroke="#000" stroke-width="1.11"/>
<line x1="126.64" y1="396.50" x2="131.5" y2="396.50" stroke="#000" stroke-width="1.11"/>
<line x1="126.64" y1="324.50" x2="131.5" y2="324.50" stroke="#000" stroke-width="1.11"/>
<line x1="126.64" y1="251.50" x2="131.5" y2="251.50" stroke="#000" stroke-width="1.11"/>
<line x1="126.64" y1="178.50" x2="131.5" y2="178.50" stroke="#000" stroke-width="1.11"/>
<line x1="126.64" y1="105.50" x2="131.5" y2="105.50" stroke="#000" stroke-width="1.11"/>
<line x1="184.50" y1="619.5" x2="184.50" y2="624.36" stroke="#000" stroke-width="1.11"/>
<line x1="396.50" y1="619.5" x2="396.50" y2="624.36" stroke="#000" stroke-width="1.11"/>
<line x1="607.50" y1="619.5" x2="607.50" y2="624.36" stroke="#000" stroke-width="1.11"/>
<line x1="818.50" y1="619.5" x2="818.50" y2="624.36" stroke="#000" stroke-width="1.11"/>
<line x1="1030.50" y1="619.5" x2="1030.50" y2="624.36" stroke="#000" stroke-width="1.11"/>
<line x1="1241.50" y1="619.5" x2="1241.50" y2="624.36" stroke="#000" stroke-width="1.11"/>
<rect x="1109.6" y="87.6" width="178" height="24.5" rx="2.8" fill="#fff" fill-opacity="0.8" stroke="#cccccc" stroke-width="1.11"/>
<line x1="1113.9" y1="98.05" x2="1144" y2="98.05" stroke="#1f77b4" stroke-width="2.08"/>
<g opacity="0.999">
<text x="10.30" y="25.90" font-size="17.66" textLength="838.49" lengthAdjust="spacingAndGlyphs">Inclination angle of the perturbator's orbital plane for a system composed of Body of mass: 1.0e+00</text>
<text x="853.03" y="25.90" font-size="17.66" font-style="italic" textLength="13.84" lengthAdjust="spacingAndGlyphs">M</text>
<text x="887.31" y="25.90" font-size="17.66" textLength="205.69" lengthAdjust="spacingAndGlyphs">; Body of mass: 1.0e+00</text>
<text x="1098.72" y="25.90" font-size="17.66" font-style="italic" textLength="14.25" lengthAdjust="spacingAndGlyphs">M</text>
<text x="1131.93" y="25.90" font-size="17.66" textLength="199.20" lengthAdjust="spacingAndGlyphs">; Body of mass: 1.0e-01</text>
<text x="1335.82" y="25.90" font-size="17.66" font-style="italic" textLength="14.05" lengthAdjust="spacingAndGlyphs">M</text>
<text x="1371.10" y="25.90" font-size="17.66">;</text>
<text x="362.24" y="48.80" font-size="17.66" textLength="668.88" lengthAdjust="spacingAndGlyphs">integrated with leapfrog for a duration of 10000.00 years with initial parameters</text>
<text x="209.97" y="71.60" font-size="17.66" textLength="206.60" lengthAdjust="spacingAndGlyphs">a1 = 1.00 au, e1 = 0.00,</text>
<text x="421.80" y="71.60" font-size="17.66" font-style="italic" textLength="11.63" lengthAdjust="spacingAndGlyphs">ψ</text>
<text x="433.42" y="71.60" font-size="17.66" textLength="302.56" lengthAdjust="spacingAndGlyphs">1 = 0.00° ; a2 = 1.00 au, e2 = 0.00,</text>
<text x="741.14" y="71.60" font-size="17.66" font-style="italic" textLength="11.07" lengthAdjust="spacingAndGlyphs">ψ</text>
<text x="752.10" y="71.60" font-size="17.66" textLength="313.15" lengthAdjust="spacingAndGlyphs">2 = 0.00° ; a3 = 10.00 au, e3 = 0.25,</text>
<text x="1070.05" y="71.60" font-size="17.66" font-style="italic" textLength="10.96" lengthAdjust="spacingAndGlyphs">ψ</text>
<text x="1081.06" y="71.60" font-size="17.66" textLength="101.71" lengthAdjust="spacingAndGlyphs">3 = 80.00° ;</text>
<text x="104.58" y="620.46" font-size="14.5" textLength="16.95" lengthAdjust="spacingAndGlyphs">10</text>
<text x="104.32" y="547.64" font-size="14.5" textLength="17.22" lengthAdjust="spacingAndGlyphs">20</text>
<text x="104.64" y="474.82" font-size="14.5" textLength="16.89" lengthAdjust="spacingAndGlyphs">30</text>
<text x="104.52" y="402.00" font-size="14.5" textLength="17.01" lengthAdjust="spacingAndGlyphs">40</text>
<text x="104.38" y="329.18" font-size="14.5" textLength="17.16" lengthAdjust="spacingAndGlyphs">50</text>
<text x="104.27" y="256.36" font-size="14.5" textLength="17.27" lengthAdjust="spacingAndGlyphs">60</text>
<text x="104.45" y="183.54" font-size="14.5" textLength="17.08" lengthAdjust="spacingAndGlyphs">70</text>
<text x="104.24" y="110.72" font-size="14.5" textLength="17.30" lengthAdjust="spacingAndGlyphs">80</text>
<text x="180.80" y="639.60" font-size="14.5" textLength="8.08" lengthAdjust="spacingAndGlyphs">0</text>
<text x="378.71" y="639.60" font-size="14.5" textLength="34.77" lengthAdjust="spacingAndGlyphs">2000</text>
<text x="590.28" y="639.60" font-size="14.5" textLength="34.57" lengthAdjust="spacingAndGlyphs">4000</text>
<text x="801.40" y="639.60" font-size="14.5" textLength="34.82" lengthAdjust="spacingAndGlyphs">6000</text>
<text x="1012.74" y="639.60" font-size="14.5" textLength="34.85" lengthAdjust="spacingAndGlyphs">8000</text>
<text x="1220.01" y="639.60" font-size="14.5" textLength="43.43" lengthAdjust="spacingAndGlyphs">10000</text>
<text x="1153.75" y="103.80" font-size="14.5" textLength="127.90" lengthAdjust="spacingAndGlyphs">step of 4.32e+04s</text>
<text x="696.90" y="660.80" font-size="14.5" font-style="italic" textLength="5.38" lengthAdjust="spacingAndGlyphs">t</text>
<text x="704.10" y="660.20" font-size="14.5">[</text>
<text x="710.62" y="660.80" font-size="14.5" font-style="italic" textLength="13.23" lengthAdjust="spacingAndGlyphs">yr</text>
<text x="725.20" y="660.20" font-size="14.5">]</text>
<text transform="translate(92.90,0) rotate(-90)" x="-363.33" y="0" font-size="14.5" font-style="italic" textLength="8.54" lengthAdjust="spacingAndGlyphs">ϕ</text>
<text transform="translate(92.30,0) rotate(-90)" x="-352.75" y="0" font-size="14.5">[</text>
<text transform="translate(92.30,0) rotate(-90)" x="-339.65" y="0" font-size="14.5">]</text>
<circle cx="874.9" cy="25.0" r="3.5" fill="none" stroke="#000" stroke-width="0.95"/><circle cx="874.9" cy="25.0" r="0.75" fill="#000"/>
<circle cx="1120.8" cy="25.0" r="3.5" fill="none" stroke="#000" stroke-width="0.95"/><circle cx="1120.8" cy="25.0" r="0.75" fill="#000"/>
<circle cx="1357.7" cy="24.9" r="3.5" fill="none" stroke="#000" stroke-width="0.95"/><circle cx="1357.7" cy="24.9" r="0.75" fill="#000"/>
<circle cx="83.9" cy="344.8" r="1.5" fill="#000" fill-opacity="0.3" stroke="#000" stroke-opacity="0.35" stroke-width="0.6"/>
</g>
</svg>
</body></html>
